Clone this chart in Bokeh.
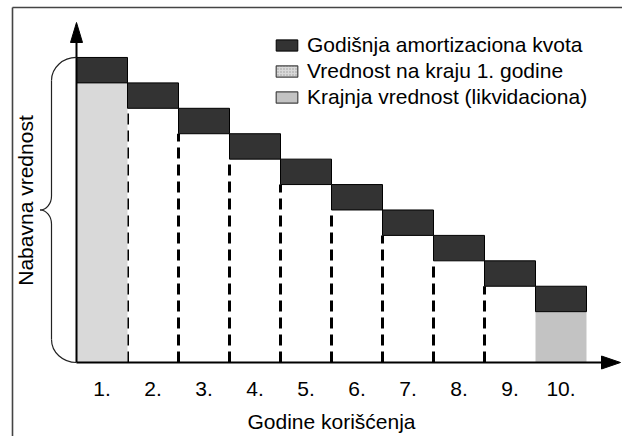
import math
from bokeh.plotting import figure
from bokeh.models import ColumnDataSource, Legend, LegendItem
from bokeh.core.properties import value
from bokeh.embed import file_html
from bokeh.resources import INLINE

# ---------------- data ----------------
years = [1, 2, 3, 4, 5, 6, 7, 8, 9, 10]
tick_labels = ["1.", "2.", "3.", "4.", "5.", "6.", "7.", "8.", "9.", "10."]
start_values = [12, 11, 10, 9, 8, 7, 6, 5, 4, 3]   # value at start of year
end_values = [11, 10, 9, 8, 7, 6, 5, 4, 3, 2]      # value at end of year
purchase_value = 12
residual_value = 2
legend_labels = ["Godišnja amortizaciona kvota",
                 "Vrednost na kraju 1. godine",
                 "Krajnja vrednost (likvidaciona)"]
x_title = "Godine korišćenja"
y_title = "Nabavna vrednost"

# ---------------- layout ----------------
W, H = 622, 436
PX_X = 51.0      # pixels per year
PX_Y = 25.42     # pixels per value unit
ORIG_X = 76.0    # px of left edge of bar 1 (x = 0.5)
ORIG_Y = 362.0   # px (from top) of value 0

x_start = 0.5 - ORIG_X / PX_X
x_end = x_start + W / PX_X
y_start = -(H - ORIG_Y) / PX_Y
y_end = ORIG_Y / PX_Y


def dx(px):   # pixel length -> x data length
    return px / PX_X


def dy(px):   # pixel length -> y data length
    return px / PX_Y


FONT = value("Liberation Sans")
FS = "21px"

p = figure(width=W, height=H, x_range=(x_start, x_end), y_range=(y_start, y_end),
           output_backend="svg", toolbar_location=None,
           x_axis_location=None, y_axis_location=None,
           min_border=0, outline_line_color=None, background_fill_color="white")
p.grid.visible = False

# frame lines (top and left)
left_x = 0.5 - dx(64)
top_y = y_end - dy(7)
p.segment(x0=[left_x, left_x], y0=[y_start, top_y], x1=[left_x, x_end], y1=[top_y, top_y],
          line_color="#444444", line_width=1.6)

# dashed drop lines (left edges of bars 2..9)
dash_x = [y - 0.5 for y in years[1:9]]
dash_top = end_values[1:9]
p.segment(x0=dash_x, y0=[0] * len(dash_x), x1=dash_x, y1=dash_top,
          line_color="black", line_width=3, line_dash="11 6")

# year 1 remaining value and residual value
bar1 = p.quad(left=[years[0] - 0.5], right=[years[0] + 0.5], bottom=[0], top=[end_values[0]],
              fill_color="#d9d9d9", line_color=None)
bar10 = p.quad(left=[years[-1] - 0.5], right=[years[-1] + 0.5], bottom=[0], top=[residual_value],
               fill_color="#c3c3c3", line_color=None)

# annual depreciation blocks
src = ColumnDataSource(dict(left=[y - 0.5 for y in years], right=[y + 0.5 for y in years],
                            bottom=end_values, top=start_values))
dark = p.quad(left="left", right="right", bottom="bottom", top="top", source=src,
              fill_color="#333333", line_color="black", line_width=1)

# axes with arrowheads
x_tip = 0.5 + dx(544)
y_tip = dy(340)
p.segment(x0=[0.5, 0.5], y0=[0, 0], x1=[x_tip - dx(15), 0.5], y1=[0, y_tip - dy(15)],
          line_color="black", line_width=2)
p.patch(x=[x_tip, x_tip - dx(19), x_tip - dx(19)], y=[0, dy(6.5), -dy(6.5)],
        fill_color="black", line_color="black", line_width=1)
p.patch(x=[0.5, 0.5 - dx(6), 0.5 + dx(6)], y=[y_tip, y_tip - dy(20), y_tip - dy(20)],
        fill_color="black", line_color="black", line_width=1)

# curly brace spanning the purchase value
bx1 = 0.5
bx0 = 0.5 - dx(25)
bxc = 0.5 - dx(36.5)
ry = dy(23)
rc = dy(14)
k = 0.552
top = purchase_value
bot = 0
mid = purchase_value / 2
p.bezier(
    x0=[bx1, bx0, bx0, bx0],
    y0=[top, mid + rc, mid - rc, bot + ry],
    x1=[bx0, bxc, bxc, bx1],
    y1=[top - ry, mid, mid, bot],
    cx0=[bx1 - k * (bx1 - bx0), bx0, bx0, bx0],
    cy0=[top, mid + rc - k * rc, mid - rc + k * rc, bot + ry - k * ry],
    cx1=[bx0, bxc + k * (bx0 - bxc), bxc + k * (bx0 - bxc), bx1 - k * (bx1 - bx0)],
    cy1=[top - ry + k * ry, mid, mid, bot],
    line_color="#222222", line_width=1.2)
p.segment(x0=[bx0, bx0], y0=[top - ry, mid - rc], x1=[bx0, bx0], y1=[mid + rc, bot + ry],
          line_color="#222222", line_width=1.2)

# tick labels and titles
p.text(x=years, y=[-dy(26)] * len(years), text=tick_labels, text_font=FONT,
       text_font_size=FS, text_align="center", text_baseline="middle",
       text_color="black")
p.text(x=[(years[0] + years[-1]) / 2], y=[-dy(59)], text=[x_title], text_font=FONT,
       text_font_size=FS, text_align="center", text_baseline="middle",
       text_color="black")
p.text(x=[0.5 - dx(51.5)], y=[dy(162)], text=[y_title], angle=math.pi / 2, text_font=FONT,
       text_font_size=FS, text_align="center", text_baseline="middle",
       text_color="black")

# legend swatches (hidden copies of the light bars, styled as in the key)
leg1 = p.quad(left=[years[0] - 0.5], right=[years[0] + 0.5], bottom=[0], top=[end_values[0]],
              fill_color="#d9d9d9", hatch_pattern="dot", hatch_color="#9a9a9a",
              hatch_scale=3, hatch_weight=1, line_color="#444444", line_width=1.2,
              visible=False)
leg2 = p.quad(left=[years[-1] - 0.5], right=[years[-1] + 0.5], bottom=[0], top=[residual_value],
              fill_color="#c3c3c3", line_color="#444444", line_width=1.2, visible=False)

legend = Legend(items=[LegendItem(label=legend_labels[0], renderers=[dark]),
                       LegendItem(label=legend_labels[1], renderers=[leg1]),
                       LegendItem(label=legend_labels[2], renderers=[leg2])],
                location=(273, 327), padding=0, spacing=2, margin=0,
                glyph_width=27, glyph_height=14, label_standoff=7,
                label_text_font="Liberation Sans", label_text_font_size=FS,
                label_text_color="black", border_line_color=None,
                background_fill_alpha=0, inactive_fill_alpha=0)
p.add_layout(legend)

open("out.html", "w").write(file_html(p, INLINE))
